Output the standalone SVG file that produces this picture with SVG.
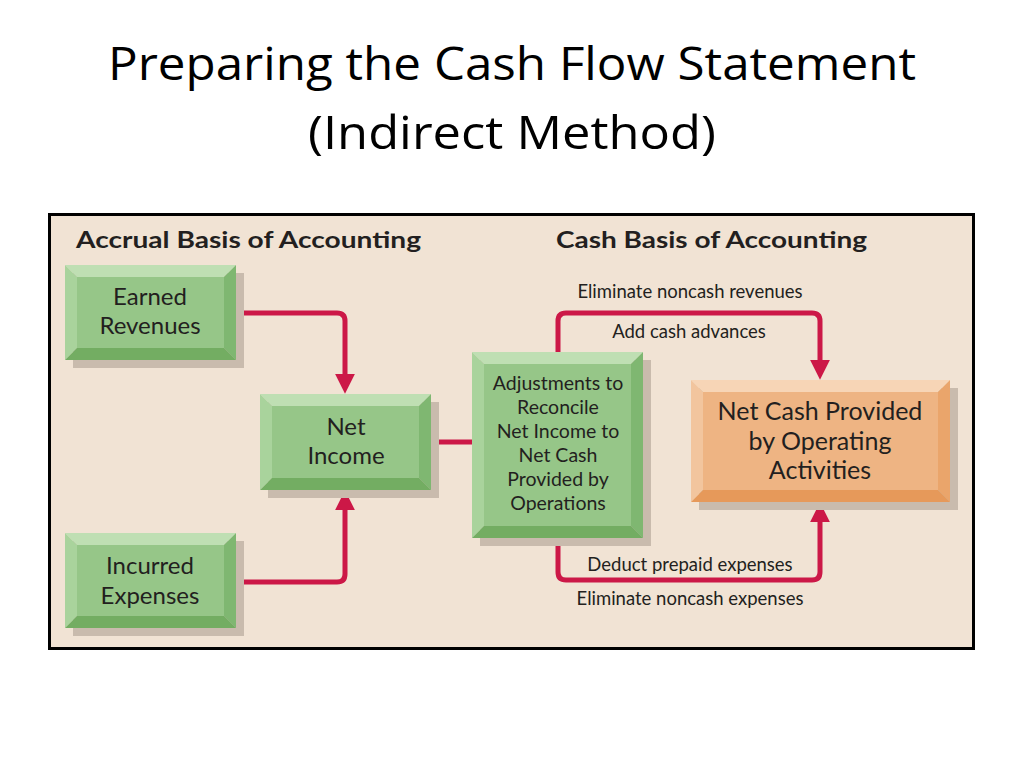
<svg xmlns="http://www.w3.org/2000/svg" width="1024" height="768" viewBox="0 0 1024 768">
<defs>
<style>
.title{font-family:"Open Sans","Liberation Sans",sans-serif;font-size:46px;fill:#000;text-anchor:middle}
.hdr{font-family:Lato,"Liberation Sans",sans-serif;font-weight:bold;font-size:22px;fill:#231f20}
.nt{font-family:Lato,"Liberation Sans",sans-serif;font-size:24px;fill:#231f20;text-anchor:middle}
.ot{font-family:Lato,"Liberation Sans",sans-serif;font-size:25px;fill:#231f20;text-anchor:middle}
.st{font-family:Lato,"Liberation Sans",sans-serif;font-size:19.5px;fill:#231f20;text-anchor:middle}
.lb{font-family:Lato,"Liberation Sans",sans-serif;font-size:18.5px;fill:#231f20;text-anchor:middle}
.sh{fill:#c9bbad}
.gT{fill:#bfdfb3}.gL{fill:#a9d39c}.gR{fill:#7fb771}.gB{fill:#73ad62}.gF{fill:#96c688}
.oT{fill:#f7d5b6}.oL{fill:#f2c59e}.oR{fill:#eaa56b}.oB{fill:#e6995a}.oF{fill:#eeb483}
.cn{fill:none;stroke:#cc1847;stroke-width:5;marker-end:url(#ah)}
</style>
<marker id="ah" markerUnits="userSpaceOnUse" markerWidth="20" markerHeight="20" viewBox="0 0 18 18" refX="2" refY="9" orient="auto">
<path d="M0,0 L18,9 L0,18 z" fill="#cc1847"/>
</marker>
</defs>
<rect x="0" y="0" width="1024" height="768" fill="#fff"/>
<text class="title" x="512" y="80" textLength="808" lengthAdjust="spacingAndGlyphs">Preparing the Cash Flow Statement</text>
<text class="title" x="512" y="149" textLength="408" lengthAdjust="spacingAndGlyphs">(Indirect Method)</text>
<rect x="49.5" y="214.5" width="924" height="434" fill="#f1e3d4" stroke="#000" stroke-width="3"/>
<text class="hdr" x="76" y="248" textLength="345" lengthAdjust="spacingAndGlyphs">Accrual Basis of Accounting</text>
<text class="hdr" x="556" y="248" textLength="311" lengthAdjust="spacingAndGlyphs">Cash Basis of Accounting</text>

<g id="connectors">
<path class="cn" d="M236,313 H337 Q345,313 345,321 V376"/>
<path class="cn" d="M237,582 H337 Q345,582 345,574 V508"/>
<path d="M431,442 H472" fill="none" stroke="#cc1847" stroke-width="5"/>
<path class="cn" d="M558,352 V321 Q558,313 566,313 H812 Q820,313 820,321 V362"/>
<path class="cn" d="M558,538 V572 Q558,580 566,580 H812 Q820,580 820,572 V520"/>
<text class="lb" x="690" y="298">Eliminate noncash revenues</text>
<text class="lb" x="689" y="338">Add cash advances</text>
<text class="lb" x="690" y="571">Deduct prepaid expenses</text>
<text class="lb" x="690" y="605">Eliminate noncash expenses</text>
</g>

<g id="earned-revenues">
<rect class="sh" x="73" y="273" width="171" height="95"/>
<polygon class="gT" points="65,265 236,265 224,277 77,277"/>
<polygon class="gL" points="65,265 77,277 77,348 65,360"/>
<polygon class="gR" points="236,265 236,360 224,348 224,277"/>
<polygon class="gB" points="65,360 236,360 224,348 77,348"/>
<rect class="gF" x="77" y="277" width="147" height="71"/>
<text class="nt" x="150" y="305">Earned</text>
<text class="nt" x="150" y="334">Revenues</text>
</g>

<g id="net-income">
<rect class="sh" x="268" y="402" width="171" height="96"/>
<polygon class="gT" points="260,394 431,394 419,406 272,406"/>
<polygon class="gL" points="260,394 272,406 272,478 260,490"/>
<polygon class="gR" points="431,394 431,490 419,478 419,406"/>
<polygon class="gB" points="260,490 431,490 419,478 272,478"/>
<rect class="gF" x="272" y="406" width="147" height="72"/>
<text class="nt" x="346" y="435">Net</text>
<text class="nt" x="346" y="464">Income</text>
</g>

<g id="incurred-expenses">
<rect class="sh" x="73" y="541" width="171" height="95"/>
<polygon class="gT" points="65,533 236,533 224,545 77,545"/>
<polygon class="gL" points="65,533 77,545 77,616 65,628"/>
<polygon class="gR" points="236,533 236,628 224,616 224,545"/>
<polygon class="gB" points="65,628 236,628 224,616 77,616"/>
<rect class="gF" x="77" y="545" width="147" height="71"/>
<text class="nt" x="150" y="574">Incurred</text>
<text class="nt" x="150" y="604">Expenses</text>
</g>

<g id="adjustments">
<rect class="sh" x="480" y="360" width="171" height="186"/>
<polygon class="gT" points="472,352 643,352 631,364 484,364"/>
<polygon class="gL" points="472,352 484,364 484,526 472,538"/>
<polygon class="gR" points="643,352 643,538 631,526 631,364"/>
<polygon class="gB" points="472,538 643,538 631,526 484,526"/>
<rect class="gF" x="484" y="364" width="147" height="162"/>
<text class="st" x="558" y="390">Adjustments to</text>
<text class="st" x="558" y="414">Reconcile</text>
<text class="st" x="558" y="438">Net Income to</text>
<text class="st" x="558" y="462">Net Cash</text>
<text class="st" x="558" y="486">Provided by</text>
<text class="st" x="558" y="510">Operations</text>
</g>

<g id="net-cash-provided">
<rect class="sh" x="699" y="388" width="259" height="122"/>
<polygon class="oT" points="691,380 950,380 938,392 703,392"/>
<polygon class="oL" points="691,380 703,392 703,490 691,502"/>
<polygon class="oR" points="950,380 950,502 938,490 938,392"/>
<polygon class="oB" points="691,502 950,502 938,490 703,490"/>
<rect class="oF" x="703" y="392" width="235" height="98"/>
<text class="ot" x="820" y="420">Net Cash Provided</text>
<text class="ot" x="820" y="450">by Operating</text>
<text class="ot" x="820" y="479">Activities</text>
</g>
</svg>
